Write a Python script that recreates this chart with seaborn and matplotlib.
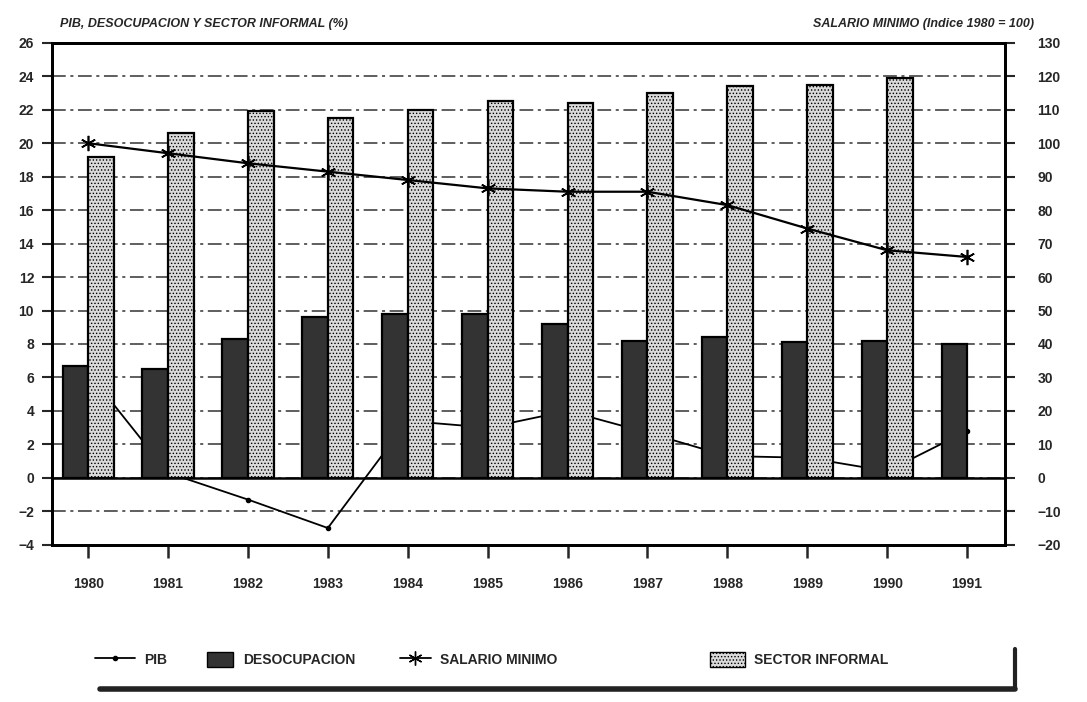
import numpy as np
import pandas as pd
import seaborn as sns
import matplotlib.pyplot as plt
from matplotlib.lines import Line2D
from matplotlib.patches import Patch

# data
years = ['1980', '1981', '1982', '1983', '1984', '1985',
         '1986', '1987', '1988', '1989', '1990', '1991']
pib = [6.3, 0.3, -1.3, -3.0, 3.4, 3.0, 4.0, 2.7, 1.3, 1.2, 0.4, 2.8]
desocupacion = [6.7, 6.5, 8.3, 9.6, 9.8, 9.8, 9.2, 8.2, 8.4, 8.1, 8.2, 8.0]
sector_informal = [19.2, 20.6, 21.9, 21.5, 22.0, 22.5, 22.4, 23.0, 23.4, 23.5, 23.9, np.nan]
salario_minimo = [100, 97, 94, 91.5, 89, 86.5, 85.5, 85.5, 81.5, 74.5, 68, 66]

left_ticks = list(range(-4, 27, 2))
right_ticks = list(range(-20, 131, 10))

DARK = '#333333'
LIGHT = '#dadada'

sns.set_style('ticks')
plt.rcParams['font.family'] = ['Liberation Sans Narrow', 'Liberation Sans', 'DejaVu Sans']
plt.rcParams['font.weight'] = 'bold'
plt.rcParams['hatch.linewidth'] = 0.6

bars = pd.DataFrame({
    'year': years * 2,
    'value': desocupacion + sector_informal,
    'serie': ['DESOCUPACION'] * len(years) + ['SECTOR INFORMAL'] * len(years),
})

fig = plt.figure(figsize=(10.87, 7.02), dpi=100)
ax = fig.add_axes([0.048, 0.224, 0.877, 0.715])

sns.barplot(data=bars, x='year', y='value', hue='serie', order=years,
            palette={'DESOCUPACION': DARK, 'SECTOR INFORMAL': LIGHT},
            width=0.64, edgecolor='black', linewidth=1.6, legend=False,
            zorder=3, ax=ax)
for bar in ax.containers[1]:
    bar.set_hatch('.....')

# PIB line sits behind the bars
sns.pointplot(x=years, y=pib, order=years, color='black', markers='o',
              markersize=3, linewidth=1.3, ax=ax)
for ln in ax.lines:
    ln.set_zorder(2.5)

ax.axhline(0, color='black', lw=1.8, zorder=2.4)
ax.set_ylim(-4, 26)
ax.set_yticks(left_ticks)
ax.set_xlim(-0.45, 11.48)
ax.yaxis.grid(True, color='#333333', lw=1.1, linestyle=(0, (9, 3, 2, 3)), zorder=0)
ax.set_axisbelow(True)
ax.set_xlabel('')
ax.set_ylabel('')
ax.tick_params(axis='y', length=7, width=1.5, labelsize=10, pad=6)
ax.tick_params(axis='x', length=9, width=1.8, labelsize=10, pad=14)
for s in ax.spines.values():
    s.set_linewidth(2)
    s.set_color('black')

ax2 = ax.twinx()
sns.pointplot(x=years, y=salario_minimo, order=years, color='black',
              markers=(6, 2, 0), markersize=11, linewidth=1.6, ax=ax2)
ax2.set_ylim(-20, 130)
ax2.set_yticks(right_ticks)
ax2.set_xlim(-0.45, 11.48)
ax2.set_ylabel('')
ax2.tick_params(axis='y', length=7, width=1.5, labelsize=10, pad=16)
for s in ax2.spines.values():
    s.set_linewidth(2)
    s.set_color('black')

fig.text(0.055, 0.962, 'PIB, DESOCUPACION Y SECTOR INFORMAL (%)',
         fontsize=9, fontweight='bold', style='italic')
fig.text(0.951, 0.962, 'SALARIO MINIMO (Indice 1980 = 100)', ha='right',
         fontsize=9, fontweight='bold', style='italic')

# legend items are spread unevenly in the original, so one legend each
legend_items = [
    (Line2D([], [], color='black', marker='o', markersize=3, lw=1.3), 'PIB', 0.087, 2.9),
    (Patch(facecolor=DARK, edgecolor='black'), 'DESOCUPACION', 0.19, 1.9),
    (Line2D([], [], color='black', marker=(6, 2, 0), markersize=10, lw=1.3),
     'SALARIO MINIMO', 0.368, 2.2),
    (Patch(facecolor=LIGHT, edgecolor='black', hatch='.....'), 'SECTOR INFORMAL', 0.653, 2.5),
]
for handle, label, xpos, hlen in legend_items:
    fig.legend([handle], [label], loc='center left', bbox_to_anchor=(xpos, 0.06),
               frameon=False, fontsize=10, handlelength=hlen, handleheight=1.2,
               borderpad=0, borderaxespad=0, handletextpad=0.7)

# shadow edges of the legend box
fig.add_artist(Line2D([0.092, 0.934], [0.018, 0.018], color='#222222', lw=4))
fig.add_artist(Line2D([0.934, 0.934], [0.018, 0.075], color='#222222', lw=3))

fig.savefig('out.png', dpi=100)
